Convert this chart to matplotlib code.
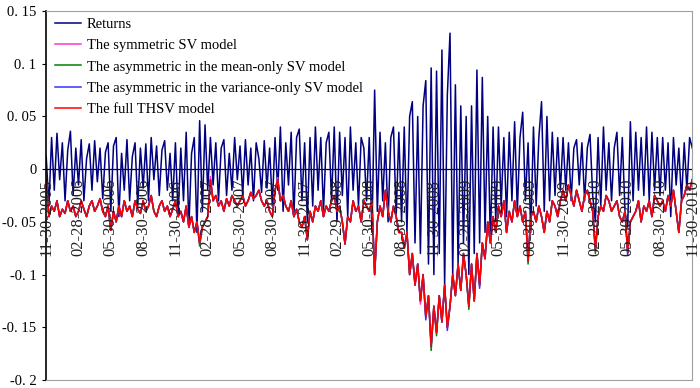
import numpy as np
import matplotlib
matplotlib.use("Agg")
import matplotlib.pyplot as plt

plt.rcParams["font.family"] = ["Liberation Serif", "DejaVu Serif"]

# quarter labels on the category axis (12 points per quarter)
dates = ["11-30-2005", "02-28-2006", "05-30-2006", "08-30-2006", "11-30-2006",
         "02-28-2007", "05-30-2007", "08-30-2007", "11-30-2007", "02-29-2008",
         "05-30-2008", "08-30-2008", "11-30-2008", "02-28-2009", "05-30-2009",
         "08-30-2009", "11-30-2009", "02-28-2010", "05-30-2010", "08-30-2010",
         "11-30-2010"]
step = 12

returns = [
    0.012, -0.035, 0.03, -0.02, 0.034, -0.01, 0.025, -0.03, 0.018, 0.036, -0.025, 0.02,
    -0.015, 0.028, -0.03, 0.01, 0.024, -0.02, 0.027, -0.012, 0.02, -0.028, 0.016, 0.025,
    -0.04, 0.022, 0.03, -0.045, 0.015, -0.02, 0.028, -0.03, 0.012, 0.025, -0.035, 0.02,
    -0.018, 0.024, -0.03, 0.03, -0.01, 0.022, -0.025, 0.018, 0.027, -0.02, 0.015, -0.03,
    0.025, -0.045, 0.02, -0.03, 0.035, -0.055, 0.015, 0.03, -0.06, 0.046, -0.04, 0.042,
    -0.02, 0.03, -0.015, 0.025, -0.03, 0.02, 0.028, -0.025, 0.015, -0.02, 0.03, -0.01,
    0.022, -0.025, 0.028, -0.015, 0.02, -0.03, 0.025, 0.01, -0.022, 0.027, -0.018, 0.02,
    -0.035, 0.03, -0.02, 0.04, -0.04, 0.025, -0.015, 0.035, -0.045, 0.03, 0.038, -0.03,
    0.025, -0.05, 0.03, -0.035, 0.04, -0.02, 0.03, -0.04, 0.025, 0.035, -0.03, 0.04,
    -0.05, 0.035, -0.025, 0.03, -0.045, 0.04, -0.02, 0.025, -0.035, 0.03, 0.02, -0.03,
    0.03, -0.06, 0.075, -0.04, 0.035, -0.03, 0.025, -0.05, 0.03, 0.04, -0.045, 0.035,
    -0.05, 0.04, -0.06, 0.05, 0.064, -0.07, 0.05, -0.08, 0.06, 0.084, -0.09, 0.096,
    -0.1, 0.093, -0.08, 0.113, -0.11, 0.07, 0.129, -0.1, 0.08, -0.09, 0.06, -0.07,
    0.05, -0.1, 0.06, -0.08, 0.094, -0.07, 0.087, -0.06, 0.05, -0.07, 0.04, -0.05,
    0.04, -0.035, 0.03, -0.045, 0.035, -0.03, 0.045, -0.04, 0.03, 0.054, -0.03, 0.025,
    -0.06, 0.04, -0.035, 0.03, 0.064, -0.04, 0.05, -0.03, 0.035, -0.025, 0.03, -0.02,
    0.03, -0.02, 0.025, -0.03, 0.02, 0.028, -0.015, 0.025, -0.03, 0.02, 0.033, -0.025,
    -0.05, 0.03, -0.035, 0.04, -0.02, 0.025, -0.03, 0.02, 0.035, -0.025, 0.03, -0.04,
    -0.055, 0.045, -0.03, 0.035, -0.02, 0.03, -0.025, 0.04, -0.03, 0.035, -0.02, 0.03,
    -0.025, 0.03, -0.02, 0.025, -0.045, 0.03, -0.015, 0.02, -0.03, 0.025, -0.02, 0.03,
    0.02]

full_thsv = [
    -0.01, -0.045, -0.035, -0.04, -0.03, -0.045, -0.038, -0.042, -0.03, -0.04, -0.035, -0.045,
    -0.04, -0.03, -0.038, -0.045, -0.035, -0.03, -0.04, -0.035, -0.028, -0.04, -0.045, -0.035,
    -0.058, -0.04, -0.05, -0.035, -0.045, -0.03, -0.04, -0.035, -0.045, -0.03, -0.038, -0.042,
    -0.03, -0.04, -0.035, -0.025, -0.04, -0.045, -0.035, -0.03, -0.04, -0.035, -0.045, -0.038,
    -0.03, -0.045, -0.04, -0.05, -0.035, -0.055, -0.045, -0.06, -0.05, -0.07, -0.055, -0.05,
    -0.045, -0.01, -0.03, -0.025, -0.035, -0.03, -0.04, -0.028, -0.035, -0.025, -0.03, -0.035,
    -0.03, -0.025, -0.035, -0.03, -0.022, -0.028, -0.025, -0.02, -0.03, -0.035, -0.03, -0.04,
    -0.045, -0.02, -0.01, -0.03, -0.025, -0.035, -0.04, -0.03, -0.045, -0.038, -0.05, -0.055,
    -0.045, -0.067, -0.04, -0.05, -0.035, -0.04, -0.03, -0.045, -0.035, -0.04, -0.03, -0.025,
    -0.04, -0.035, -0.05, -0.071, -0.045, -0.05, -0.03, -0.04, -0.035, -0.05, -0.03, -0.035,
    -0.04, -0.03, -0.1, -0.05, -0.035, -0.045, -0.02, -0.04, -0.05, -0.035, -0.045, -0.06,
    -0.06, -0.075, -0.06, -0.1, -0.08, -0.11, -0.09, -0.125, -0.1, -0.14, -0.12, -0.168,
    -0.13, -0.155, -0.12, -0.145, -0.11, -0.15, -0.13, -0.1, -0.12, -0.09, -0.115, -0.08,
    -0.1, -0.13, -0.09, -0.125, -0.08, -0.11, -0.07, -0.085, -0.05, -0.07, -0.045, -0.06,
    -0.035, -0.045, -0.03, -0.06, -0.04, -0.05, -0.03, -0.045, -0.035, -0.05, -0.04, -0.087,
    -0.045, -0.04, -0.05, -0.035, -0.045, -0.06, -0.04, -0.05, -0.03, -0.035, -0.045, -0.03,
    -0.02, -0.03, -0.015, -0.025, -0.035, -0.02, -0.03, -0.04, -0.025, -0.02, -0.03, -0.04,
    -0.076, -0.045, -0.035, -0.04, -0.025, -0.03, -0.04, -0.035, -0.03, -0.045, -0.05, -0.04,
    -0.079, -0.05, -0.045, -0.04, -0.03, -0.05, -0.035, -0.04, -0.03, -0.045, -0.025, -0.03,
    -0.035, -0.03, -0.04, -0.025, -0.035, -0.02, -0.04, -0.06, -0.03, -0.025, -0.015, -0.02,
    -0.01]

# the other three models sit almost exactly under the red line;
# only the points where they peek out are listed (index, value)
sym_diff = [(61, -0.007), (86, -0.008), (139, -0.128), (155, -0.083)]
mean_diff = [(57, -0.073), (143, -0.172), (145, -0.158), (157, -0.133), (179, -0.09), (204, -0.08)]
var_diff = [(149, -0.153), (141, -0.143), (161, -0.113), (216, -0.082)]

names = ["Returns", "The symmetric SV model", "The asymmetric in the mean-only SV model",
         "The asymmetric in the variance-only SV model", "The full THSV model"]
colors = ["#000080", "#FF33CC", "#008000", "#3333FF", "#FF0000"]


def with_diff(base, diff):
    out = list(base)
    for i, v in diff:
        out[i] = v
    return out


x = np.arange(len(returns))
sym_sv = with_diff(full_thsv, sym_diff)
mean_sv = with_diff(full_thsv, mean_diff)
var_sv = with_diff(full_thsv, var_diff)

fig = plt.figure(figsize=(7, 3.88), dpi=100)
ax = fig.add_axes([0.066, 0.0206, 0.923, 0.951])

series = [returns, sym_sv, mean_sv, var_sv, full_thsv]
for s, name, c in zip(series, names, colors):
    ax.plot(x, s, color=c, lw=1.1, label=name)

ax.axhline(0, color="#000040", lw=0.9, zorder=1.5)

ax.set_xlim(0, len(returns) - 1)
ax.set_ylim(-0.2, 0.15)
yt = [0.15, 0.1, 0.05, 0, -0.05, -0.1, -0.15, -0.2]
ylab = ["0. 15", "0. 1", "0. 05", "0", "-0. 05", "-0. 1", "-0. 15", "-0. 2"]
ax.set_yticks(yt)
ax.set_yticklabels(ylab, fontsize=10.5)
ax.tick_params(axis="y", direction="out", length=3, width=0.8, pad=4)
ax.set_xticks([])

for k, d in enumerate(dates):
    ax.text(k * step, -0.009, d, rotation=90, ha="center", va="top",
            fontsize=12, color="#202020", zorder=3)

for sp in ["top", "right", "bottom"]:
    ax.spines[sp].set_color("#A0A0A0")
ax.spines["left"].set_color("black")
ax.spines["left"].set_linewidth(1.2)

ax.legend(loc="upper left", bbox_to_anchor=(0.0, 1.005), frameon=False,
          fontsize=10.5, handlelength=1.8, handletextpad=0.4, labelspacing=0.55,
          borderaxespad=0.2)

fig.savefig("out.png", dpi=100)
